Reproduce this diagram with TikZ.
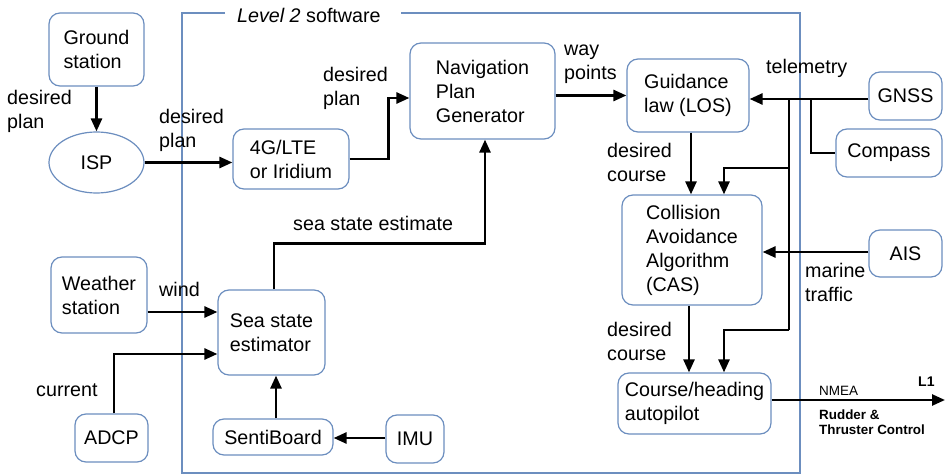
\documentclass[tikz,border=0pt]{standalone}
\usepackage{fontspec}
\setmainfont{Liberation Sans}
\usetikzlibrary{arrows.meta,shapes.geometric}
\definecolor{bord}{HTML}{6C8EBF}
\begin{document}
\begin{tikzpicture}[x=1pt,y=-1pt,
  txt/.style={font=\fontsize{19.7}{24}\selectfont},
  box/.style={txt,draw=bord,line width=1.2pt,fill=white,rounded corners=11pt,align=left,inner sep=0pt},
  lbl/.style={txt,anchor=west,align=left,inner sep=0pt},
  slbl/.style={txt,anchor=base west,inner sep=0pt},
  arr/.style={line width=2.6pt,-{Triangle[length=13pt,width=11pt]}},
  ln/.style={line width=2.6pt}]
\useasboundingbox (0,0) rectangle (946,476);
% frame
\draw[bord,line width=1.2pt] (225,13) -- (182,13) -- (182,473) -- (800,473) -- (800,13) -- (401,13);
\node[slbl] (lvl) at (237,23) {\itshape Level 2\upshape\ software};
% nodes
\node[box,minimum width=95pt,minimum height=73pt] (gs) at (96.5,49.5) {Ground\\station};
\node[txt,draw=bord,line width=1.2pt,fill=white,ellipse,inner sep=0pt,minimum width=95pt,minimum height=61pt] (isp) at (96.5,162.5) {ISP};
\node[box,minimum width=116pt,minimum height=60pt] (lte) at (291,159) {4G/LTE\\or Iridium};
\node[box,minimum width=145pt,minimum height=96pt] (nav) at (482.5,91) {Navigation\\Plan\\Generator};
\node[box,minimum width=122pt,minimum height=73pt] (guid) at (688,95.5) {Guidance\\law (LOS)};
\node[box,minimum width=73pt,minimum height=48pt] (gnss) at (905.5,96) {GNSS};
\node[box,minimum width=106pt,minimum height=48pt] (comp) at (889,153) {Compass};
\node[box,minimum width=140pt,minimum height=110pt] (cas) at (692,250) {Collision\\Avoidance\\Algorithm\\(CAS)};
\node[box,minimum width=73pt,minimum height=47pt] (ais) at (905.5,253.5) {AIS};
\node[box,minimum width=153pt,minimum height=61pt] (ap) at (694.5,403.5) {Course/heading\\autopilot};
\node[box,minimum width=96pt,minimum height=76pt] (ws) at (99,295) {Weather\\station};
\node[box,minimum width=107pt,minimum height=85pt] (sse) at (271.5,332.5) {Sea state\\estimator};
\node[box,minimum width=73pt,minimum height=48pt] (adcp) at (111.5,438) {ADCP};
\node[box,minimum width=120pt,minimum height=36pt] (senti) at (273,437) {SentiBoard};
\node[box,minimum width=58pt,minimum height=48pt] (imu) at (415,439) {IMU};
% coordinates
\coordinate (tA) at (789,99);
\coordinate (tB) at (811,99);
\coordinate (tC) at (789,168);
\coordinate (tD) at (789,330);
\coordinate (out) at (945,400);
% connectors
\draw[arr] (gs) -- (isp);
\draw[arr] (isp.east) -- (isp.east -| lte.west);
\draw[arr] (lte.east) -- ++(39,0) |- ([yshift=-7pt]nav.west);
\draw[arr] (guid.west -| nav.east) -- (guid.west);
\draw[arr] (gnss.west |- tA) -- (guid.east |- tA);
\draw[ln] (tB) |- (comp.west);
\draw[ln] (tA) -- (tD);
\draw[arr] (tC) -| ([xshift=32pt]cas.north);
\draw[arr] (tD) -| ([xshift=29.5pt]ap.north);
\draw[arr] ([xshift=3pt]guid.south) -- ([xshift=3pt]guid.south |- cas.north);
\draw[arr] (ais.west |- 0,252) -- (cas.east |- 0,252);
\draw[arr] ([xshift=-3pt]cas.south) -- ([xshift=-3pt]cas.south |- ap.north);
\draw[arr] (ap.east |- out) -- (out);
\draw[arr] ([yshift=-17pt]ws.east) -- ([yshift=-17pt]ws.east -| sse.west);
\draw[arr] ([xshift=2.5pt]adcp.north) |- ([yshift=-21.5pt]sse.west);
\draw[arr] (imu.west |- 0,438) -- (senti.east |- 0,438);
\draw[arr] ([xshift=3pt]senti.north) -- ([xshift=3pt]senti.north |- sse.south);
\draw[arr] ([xshift=2.5pt]sse.north) -- ++(0,-46) -| ([xshift=2.5pt]nav.south);
% labels
\node[lbl] (l1) at (7,111) {desired\\plan};
\node[lbl] (l2) at (159,130) {desired\\plan};
\node[lbl] (l3) at (323,88) {desired\\plan};
\node[lbl] (l4) at (564,64) {way\\points};
\node[slbl] (l5) at (766,74) {telemetry};
\node[lbl] (l6) at (607,162) {desired\\course};
\node[lbl] (l7) at (805,282) {marine\\traffic};
\node[lbl] (l8) at (607,341) {desired\\course};
\node[slbl] (l9) at (159,296) {wind};
\node[slbl] (l10) at (36,396) {current};
\node[slbl] (l11) at (293,231) {sea state estimate};
\node[anchor=base west,inner sep=0pt,font=\fontsize{13.5}{15}\selectfont] (l12) at (819,395) {NMEA};
\node[anchor=base west,inner sep=0pt,font=\fontsize{14}{15}\selectfont\bfseries] (l13) at (918,386.5) {L1};
\node[anchor=west,align=left,inner sep=0pt,font=\fontsize{13.4}{15}\selectfont\bfseries] (l14) at (819,422.5) {Rudder \&\\Thruster Control};
\end{tikzpicture}
\end{document}
